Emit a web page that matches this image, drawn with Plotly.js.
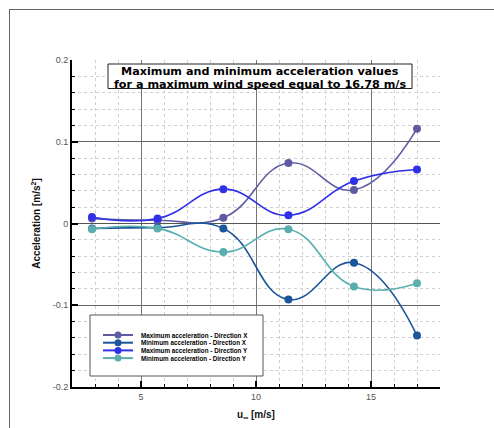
<!DOCTYPE html>
<html>
<head>
<meta charset="utf-8">
<script src="https://cdn.plot.ly/plotly-3.0.1.min.js"></script>
<style>
  html, body { margin: 0; padding: 0; background: #fff; }
  #wrap { position: relative; width: 494px; height: 428px; }
  #chart { position: absolute; left: 0; top: 0; width: 494px; height: 428px; }
  #frame { position: absolute; left: 9px; top: 9px; width: 600px; height: 600px;
           border-left: 1px solid #666; border-top: 1px solid #666; pointer-events: none; }
</style>
</head>
<body>
<div id="wrap">
  <div id="chart"></div>
  <div id="frame"></div>
</div>
<script>
// ---- data ----
const windSpeed = [2.87, 5.72, 8.58, 11.41, 14.26, 17.0];
const maxAccX = [0.006, 0.004, 0.007, 0.074, 0.041, 0.116];
const minAccX = [-0.006, -0.005, -0.006, -0.093, -0.048, -0.137];
const maxAccY = [0.008, 0.006, 0.042, 0.010, 0.052, 0.066];
const minAccY = [-0.007, -0.006, -0.035, -0.007, -0.077, -0.073];

const seriesNames = [
  "Maximum acceleration - Direction X",
  "Minimum acceleration - Direction X",
  "Maximum acceleration - Direction Y",
  "Minimum acceleration - Direction Y"
];
const seriesColors = ["#5f5ba3", "#1b569c", "#3030e8", "#5aaeae"];
const seriesValues = [maxAccX, minAccX, maxAccY, minAccY];

const titleLines = [
  "Maximum and minimum acceleration values",
  "for a maximum wind speed equal to 16.78 m/s"
];

// ---- layout geometry ----
const W = 494, H = 428;
const M = {l: 72, r: 54, t: 60, b: 41};
const PW = W - M.l - M.r, PH = H - M.t - M.b;
const px2x = p => (p - M.l) / PW;
const py2y = p => (H - M.b - p) / PH;

const traces = seriesValues.map((vals, i) => ({
  type: "scatter",
  mode: "lines+markers",
  x: windSpeed,
  y: vals,
  name: seriesNames[i],
  line: {color: seriesColors[i], width: 1.6, shape: "spline", smoothing: 1.3},
  marker: {color: seriesColors[i], size: 8},
  showlegend: false,
  cliponaxis: false
}));

const shapes = [];
const annotations = [];

// title box
shapes.push({type: "rect", xref: "paper", yref: "paper",
  x0: px2x(108), x1: px2x(412), y0: py2y(64), y1: py2y(88.5),
  line: {color: "#222", width: 1}, fillcolor: "#fff", layer: "above"});
[71.3, 84.3].forEach((py, i) => {
  annotations.push({xref: "paper", yref: "paper", x: px2x(260), y: py2y(py),
    xanchor: "center", yanchor: "middle", showarrow: false,
    text: "<b>" + titleLines[i] + "</b>",
    font: {family: "DejaVu Sans, Liberation Sans, Arial, sans-serif", size: 11.2, color: "#000"}});
});

// custom legend box
shapes.push({type: "rect", xref: "paper", yref: "paper",
  x0: px2x(90), x1: px2x(263), y0: py2y(315), y1: py2y(376),
  line: {color: "#555", width: 1}, fillcolor: "#fff", layer: "above"});
const legY = [335, 342.7, 350.4, 358.1];
seriesNames.forEach((nm, i) => {
  shapes.push({type: "line", xref: "paper", yref: "paper",
    x0: px2x(103), x1: px2x(133), y0: py2y(legY[i]), y1: py2y(legY[i]),
    line: {color: seriesColors[i], width: 2}, layer: "above"});
  shapes.push({type: "circle", xref: "paper", yref: "paper",
    xsizemode: "pixel", ysizemode: "pixel",
    xanchor: px2x(118), yanchor: py2y(legY[i]),
    x0: -3.5, x1: 3.5, y0: -3.5, y1: 3.5,
    line: {color: seriesColors[i], width: 0}, fillcolor: seriesColors[i], layer: "above"});
  annotations.push({xref: "paper", yref: "paper", x: px2x(139), y: py2y(legY[i]),
    xanchor: "left", yanchor: "middle", showarrow: false,
    text: "<b>" + nm + "</b>",
    font: {family: "Liberation Sans, Arial, sans-serif", size: 6.3, color: "#000"}});
});

const layout = {
  width: W, height: H,
  margin: M,
  paper_bgcolor: "#fff", plot_bgcolor: "#fff",
  showlegend: false,
  font: {family: "Liberation Sans, Arial, sans-serif", color: "#444"},
  xaxis: {
    range: [2, 18],
    tickvals: [5, 10, 15],
    ticktext: ["5", "10", "15"],
    ticks: "inside", ticklen: 6, tickwidth: 2, tickcolor: "#000",
    showline: true, linecolor: "#000", linewidth: 2,
    showgrid: true, gridcolor: "#777", gridwidth: 1,
    zeroline: false,
    tickfont: {size: 9, color: "#555"},
    minor: {dtick: 1, tick0: 0, showgrid: true, gridcolor: "#d0d0d0", griddash: "dot",
            ticks: "inside", ticklen: 3, tickcolor: "#000", tickwidth: 1},
    title: {text: "<b>u<sub>∞</sub> [m/s]</b>", font: {size: 10, color: "#111"}, standoff: 10}
  },
  yaxis: {
    range: [-0.2, 0.2],
    tickvals: [-0.2, -0.1, 0, 0.1, 0.2],
    ticktext: ["-0.2", "-0.1", "0", "0.1", "0.2"],
    ticks: "inside", ticklen: 6, tickwidth: 2, tickcolor: "#000",
    showline: true, linecolor: "#000", linewidth: 2,
    showgrid: true, gridcolor: "#666", gridwidth: 1,
    zeroline: true, zerolinecolor: "#555", zerolinewidth: 1,
    tickfont: {size: 9, color: "#555"},
    minor: {dtick: 0.02, tick0: 0, showgrid: true, gridcolor: "#d0d0d0", griddash: "dot",
            ticks: "inside", ticklen: 3, tickcolor: "#000", tickwidth: 1},
    title: {text: "<b>Acceleration [m/s<sup>2</sup>]</b>", font: {size: 10, color: "#111"}, standoff: 10}
  },
  shapes: shapes,
  annotations: annotations
};

Plotly.newPlot("chart", traces, layout, {displayModeBar: false, staticPlot: true});
</script>
</body>
</html>
